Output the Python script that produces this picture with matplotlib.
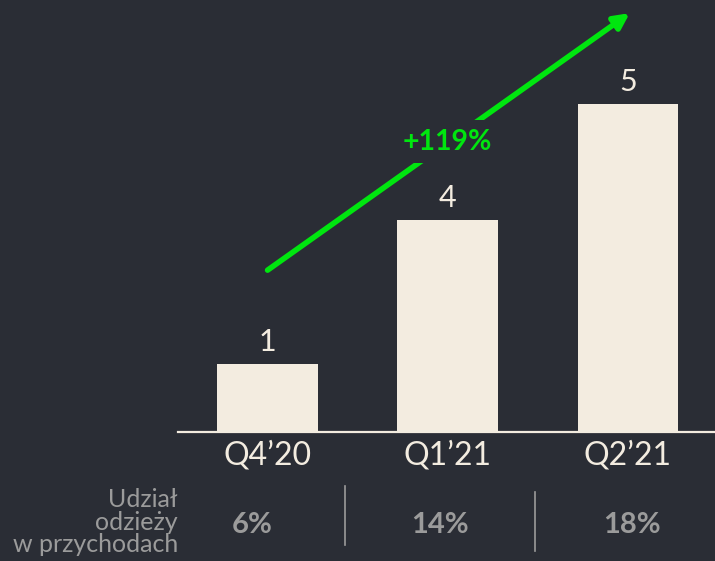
import matplotlib.pyplot as plt
import matplotlib.transforms as mtransforms

# data
quarters = ["Q4\u201920", "Q1\u201921", "Q2\u201921"]
bar_heights = [1.0, 3.12, 4.82]
value_labels = ["1", "4", "5"]
share_labels = ["6%", "14%", "18%"]
growth_label = "+119%"

bg = "#2a2d35"
cream = "#f3ece0"
green = "#00e60f"
grey = "#9b9b9b"

plt.rcParams['font.family'] = ['Lato', 'DejaVu Sans']

fig = plt.figure(figsize=(7.15, 5.61), dpi=100, facecolor=bg)
W, H = 715, 561
# axes placed in pixel terms: left edge at 178px, baseline at 432px
ax = fig.add_axes([178 / W, (H - 432) / H, 1 - 178 / W, 432 / H])
ax.set_facecolor(bg)

x = list(range(len(quarters)))
ax.bar(x, bar_heights, width=0.56, color=cream, zorder=2)
ax.set_xlim(-0.497, 2.483)
ax.set_ylim(0, 432 / 68)

for xi, h, lab in zip(x, bar_heights, value_labels):
    ax.text(xi, h + 0.12, lab, ha='center', va='bottom', color=cream,
            fontsize=22, fontweight='normal')

for s in ['top', 'right', 'left']:
    ax.spines[s].set_visible(False)
ax.spines['bottom'].set_color(cream)
ax.spines['bottom'].set_linewidth(1.6)
ax.set_yticks([])
ax.set_xticks(x)
ax.set_xticklabels(quarters, color=cream, fontsize=23, fontweight='normal')
ax.tick_params(axis='x', length=0, pad=6)

# growth arrow
ax.annotate("", xy=(2.01, 6.16), xytext=(0.0, 2.38),
            arrowprops=dict(arrowstyle='-|>,head_length=0.9,head_width=0.45',
                            color=green, lw=4, shrinkA=0, shrinkB=0),
            zorder=3)
ax.text(1.0, 4.27, growth_label, ha='center', va='center', color=green,
        fontsize=20.5, fontweight='bold', zorder=4,
        bbox=dict(boxstyle='square,pad=0.3', fc=bg, ec='none'))

# bottom row: share of clothing in revenue
trans = mtransforms.blended_transform_factory(ax.transData, fig.transFigure)
fig.text(178 / W, (H - 522) / H, "Udzia\u0142\nodzie\u017cy\nw przychodach",
         ha='right', va='center', color=grey, fontsize=18,
         fontweight='normal', linespacing=0.98)
offsets = [-0.086, -0.045, 0.02]
for xi, lab, off in zip(x, share_labels, offsets):
    ax.text(xi + off, (H - 525) / H, lab, transform=trans, ha='center',
            va='center', color=grey, fontsize=21, fontweight='bold')
for sx, y0, y1 in [(0.43, 486, 545), (1.486, 492, 551)]:
    ax.plot([sx, sx], [(H - y0) / H, (H - y1) / H], transform=trans,
            color=grey, lw=1.2, clip_on=False)

fig.savefig("out.png", dpi=100, facecolor=bg)
